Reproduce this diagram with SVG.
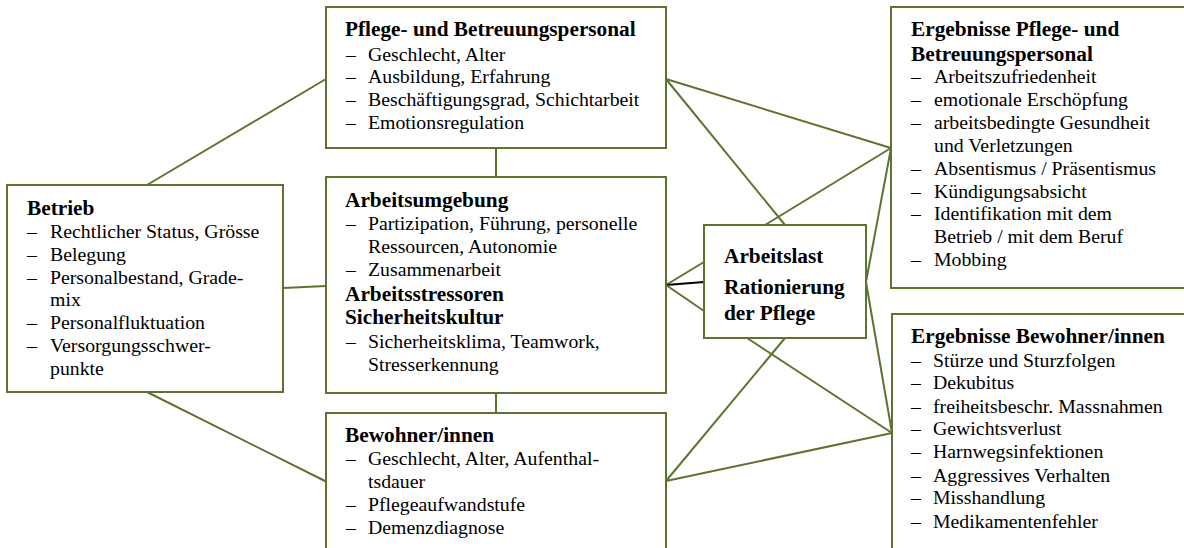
<svg xmlns="http://www.w3.org/2000/svg" width="1184" height="548" viewBox="0 0 1184 548">
<style>
.box{fill:#fff;stroke:#5b7530;stroke-width:2}
.ln{stroke:#5b7530;stroke-width:2;fill:none}
.blk{stroke:#000;stroke-width:2;fill:none}
text{font-family:"Liberation Serif","Times New Roman",serif;fill:#000}
.h{font-weight:bold;font-size:21.3px}
.t{font-size:19.8px}
</style>
<rect width="1184" height="548" fill="#fff"/>
<g id="connectors">
<line class="ln" x1="147" y1="185" x2="326" y2="79"/>
<line class="ln" x1="283" y1="288" x2="326" y2="286"/>
<line class="ln" x1="147" y1="392" x2="326" y2="481.5"/>
<line class="ln" x1="496" y1="148" x2="496" y2="177"/>
<line class="ln" x1="496" y1="393" x2="496" y2="413"/>
<line class="ln" x1="666" y1="79" x2="891" y2="148"/>
<line class="ln" x1="666" y1="79" x2="785" y2="225"/>
<line class="ln" x1="765" y1="225" x2="891" y2="148"/>
<line class="ln" x1="666" y1="285" x2="704" y2="262"/>
<line class="blk" x1="666" y1="285" x2="704" y2="282"/>
<line class="ln" x1="666" y1="285" x2="704" y2="311"/>
<line class="ln" x1="866" y1="282" x2="891" y2="148"/>
<line class="ln" x1="866" y1="282" x2="892" y2="433"/>
<line class="ln" x1="747" y1="338" x2="892" y2="433"/>
<line class="ln" x1="785" y1="338" x2="666" y2="481"/>
<line class="ln" x1="666" y1="481" x2="892" y2="433"/>
</g>
<g id="betrieb">
<rect class="box" x="7" y="185" width="276" height="207"/>
<text class="h" x="27" y="215">Betrieb</text>
<text class="t"><tspan x="27" y="238.3">–</tspan><tspan x="50" y="238.3">Rechtlicher Status, Grösse</tspan><tspan x="27" y="260.7">–</tspan><tspan x="50" y="260.7">Belegung</tspan><tspan x="27" y="283.5">–</tspan><tspan x="50" y="283.5">Personalbestand, Grade-</tspan><tspan x="50" y="306">mix</tspan><tspan x="27" y="329">–</tspan><tspan x="50" y="329">Personalfluktuation</tspan><tspan x="27" y="352">–</tspan><tspan x="50" y="352">Versorgungsschwer-</tspan><tspan x="50" y="374.5">punkte</tspan></text>
</g>
<g id="pflegepersonal">
<rect class="box" x="326" y="7" width="340" height="141"/>
<text class="h" x="345" y="36">Pflege- und Betreuungspersonal</text>
<text class="t"><tspan x="346" y="60.7">–</tspan><tspan x="368" y="60.7">Geschlecht, Alter</tspan><tspan x="346" y="83.3">–</tspan><tspan x="368" y="83.3">Ausbildung, Erfahrung</tspan><tspan x="346" y="106">–</tspan><tspan x="368" y="106">Beschäftigungsgrad, Schichtarbeit</tspan><tspan x="346" y="128.6">–</tspan><tspan x="368" y="128.6">Emotionsregulation</tspan></text>
</g>
<g id="arbeitsumgebung">
<rect class="box" x="326" y="177" width="340" height="216"/>
<text class="h" x="345" y="206.5">Arbeitsumgebung</text>
<text class="t"><tspan x="346" y="230">–</tspan><tspan x="368" y="230">Partizipation, Führung, personelle</tspan><tspan x="368" y="252.7">Ressourcen, Autonomie</tspan><tspan x="346" y="275.5">–</tspan><tspan x="368" y="275.5">Zusammenarbeit</tspan></text>
<text class="h" x="345" y="300.5">Arbeitsstressoren</text>
<text class="h" x="345" y="324">Sicherheitskultur</text>
<text class="t"><tspan x="346" y="347.5">–</tspan><tspan x="368" y="347.5">Sicherheitsklima, Teamwork,</tspan><tspan x="368" y="370.5">Stresserkennung</tspan></text>
</g>
<g id="bewohner">
<rect class="box" x="326" y="413" width="340" height="150"/>
<text class="h" x="345" y="441.5">Bewohner/innen</text>
<text class="t"><tspan x="346" y="465">–</tspan><tspan x="368" y="465">Geschlecht, Alter, Aufenthal-</tspan><tspan x="368" y="487.5">tsdauer</tspan><tspan x="346" y="510.5">–</tspan><tspan x="368" y="510.5">Pflegeaufwandstufe</tspan><tspan x="346" y="534">–</tspan><tspan x="368" y="534">Demenzdiagnose</tspan></text>
</g>
<g id="arbeitslast">
<rect class="box" x="704" y="225" width="162" height="113"/>
<text class="h"><tspan x="724" y="262.5">Arbeitslast</tspan><tspan x="724" y="294">Rationierung</tspan><tspan x="724" y="319.5">der Pflege</tspan></text>
</g>
<g id="ergebnisse-pflege">
<rect class="box" x="891" y="7" width="310" height="281"/>
<text class="h"><tspan x="911" y="36">Ergebnisse Pflege- und</tspan><tspan x="911" y="60.5">Betreuungspersonal</tspan></text>
<text class="t"><tspan x="911" y="83.3">–</tspan><tspan x="934" y="83.3">Arbeitszufriedenheit</tspan><tspan x="911" y="106">–</tspan><tspan x="934" y="106">emotionale Erschöpfung</tspan><tspan x="911" y="128.5">–</tspan><tspan x="934" y="128.5">arbeitsbedingte Gesundheit</tspan><tspan x="934" y="151.5">und Verletzungen</tspan><tspan x="911" y="175">–</tspan><tspan x="934" y="175">Absentismus / Präsentismus</tspan><tspan x="911" y="197.5">–</tspan><tspan x="934" y="197.5">Kündigungsabsicht</tspan><tspan x="911" y="220">–</tspan><tspan x="934" y="220">Identifikation mit dem</tspan><tspan x="934" y="243">Betrieb / mit dem Beruf</tspan><tspan x="911" y="266">–</tspan><tspan x="934" y="266">Mobbing</tspan></text>
</g>
<g id="ergebnisse-bewohner">
<rect class="box" x="892" y="314" width="310" height="250"/>
<text class="h" x="911" y="343.3">Ergebnisse Bewohner/innen</text>
<text class="t"><tspan x="911" y="366.7">–</tspan><tspan x="933" y="366.7">Stürze und Sturzfolgen</tspan><tspan x="911" y="389.3">–</tspan><tspan x="933" y="389.3">Dekubitus</tspan><tspan x="911" y="412.5">–</tspan><tspan x="933" y="412.5">freiheitsbeschr. Massnahmen</tspan><tspan x="911" y="435">–</tspan><tspan x="933" y="435">Gewichtsverlust</tspan><tspan x="911" y="458.3">–</tspan><tspan x="933" y="458.3">Harnwegsinfektionen</tspan><tspan x="911" y="481.5">–</tspan><tspan x="933" y="481.5">Aggressives Verhalten</tspan><tspan x="911" y="504">–</tspan><tspan x="933" y="504">Misshandlung</tspan><tspan x="911" y="527.5">–</tspan><tspan x="933" y="527.5">Medikamentenfehler</tspan></text>
</g>
</svg>
